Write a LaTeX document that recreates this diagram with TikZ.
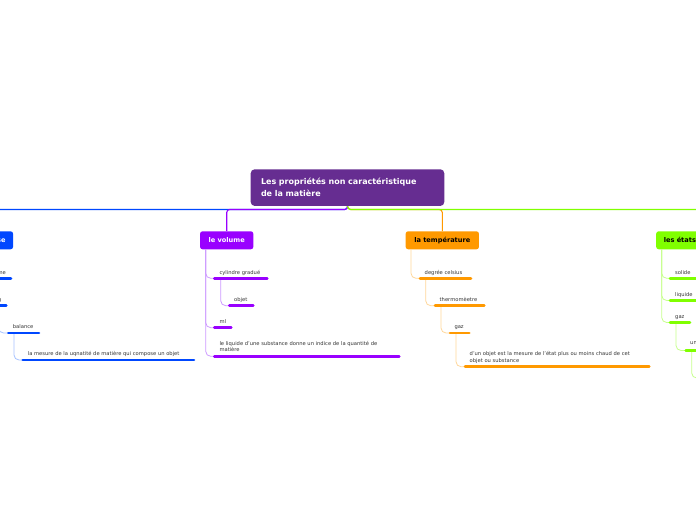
\documentclass[tikz,border=0pt]{standalone}
\usepackage{fontspec}
\setmainfont{DejaVu Sans}
\definecolor{titlec}{HTML}{662D91}
\definecolor{volc}{HTML}{9900FF}
\definecolor{voll}{HTML}{CC99FF}
\definecolor{tempc}{HTML}{FF9900}
\definecolor{templ}{HTML}{FFD699}
\definecolor{etatc}{HTML}{80FF00}
\definecolor{etatl}{HTML}{C6FF8C}
\definecolor{massc}{HTML}{0047FF}
\definecolor{massl}{HTML}{A6C2FF}
\definecolor{leaftext}{HTML}{333333}
\tikzset{
  mainline/.style={line width=1.1pt, rounded corners=3pt},
  conn/.style={line width=0.8pt, rounded corners=5pt},
  uline/.style={line width=2.6pt, line cap=round},
  leaf/.style={font=\fontsize{5.2}{6.8}\selectfont, text=leaftext, inner sep=0pt, align=left},
  topic/.style={rounded corners=2.5pt, minimum height=18pt, inner ysep=0pt, inner xsep=7.6pt,
    font=\fontsize{6.6}{8}\selectfont\bfseries},
  titlebox/.style={rounded corners=4pt, fill=titlec, text=white, minimum width=193.6pt,
    minimum height=36.7pt, inner xsep=10.3pt, inner ysep=0pt, text width=173pt, align=left,
    font=\fontsize{8}{11.7}\selectfont\bfseries}
}
\begin{document}
\begin{tikzpicture}[x=1pt,y=-1pt]
\useasboundingbox (0,0) rectangle (696,520);
\clip (0,0) rectangle (696,520);

% central topic
\node[titlebox] (title) at (347.5,187.6) {Les propriétés non caractéristique\\de la matière};

% main topics
\node[topic, fill=volc, text=white, minimum width=53.3pt] (vol) at (226.7,240.3) {le volume};
\node[topic, fill=tempc, text=black, minimum width=73.3pt] (temp) at (442.3,240.3) {la température};
\node[topic, fill=etatc, text=black, anchor=west] (etat) at (656,240.3) {les états};
\node[topic, fill=massc, text=white, anchor=east] (mass) at (13.3,240.3) {la masse};

% main connectors
\coordinate (hub) at (347.7,209.5);
\coordinate (farleft) at (-20,209.5);
\coordinate (farright) at (720,209.5);
\draw[mainline, massc] (title.south) -- (hub) -- (farleft);
\draw[mainline, tempc] (title.south) -- (hub) -| (temp.north);
\draw[mainline, volc] (title.south) -- (hub) -| (vol.north);
\draw[mainline, etatc] (title.south) -- (hub) -- (farright);

% ---------- le volume ----------
\coordinate (v0) at (205.7,249.3);
\coordinate (cyl-a) at (214.3,278.3);  \coordinate (cyl-b) at (267.3,278.3);
\coordinate (obj-a) at (229.3,305.7);  \coordinate (obj-b) at (253.3,305.7);
\coordinate (ml-a) at (214.3,327.7);   \coordinate (ml-b) at (231.3,327.7);
\coordinate (liq-a) at (214.3,356.3);  \coordinate (liq-b) at (399.3,356.3);
\coordinate (cyl-v) at (220.7,278.3);
\draw[conn, voll] (v0) |- (cyl-a);
\draw[conn, voll] (v0) |- (ml-a);
\draw[conn, voll] (v0) |- (liq-a);
\draw[conn, voll] (cyl-v) |- (obj-a);
\draw[uline, volc] (cyl-a) -- (cyl-b);
\draw[uline, volc] (obj-a) -- (obj-b);
\draw[uline, volc] (ml-a) -- (ml-b);
\draw[uline, volc] (liq-a) -- (liq-b);
\node[leaf, anchor=base west] (cyl) at (219.3,274.3) {cylindre gradué};
\node[leaf, anchor=base west] (obj) at (234,301) {objet};
\node[leaf, anchor=base west] (ml) at (219.3,323.3) {ml};
\node[leaf, anchor=base west] (liq) at (219.3,351.8) {le liquide d'une substance donne un indice de la quantité de\\matière};

% ---------- la température ----------
\coordinate (t0) at (411,249.3);
\coordinate (deg-a) at (420,278.3);  \coordinate (deg-b) at (471,278.3);
\coordinate (the-a) at (435,305.7);  \coordinate (the-b) at (484.3,305.7);
\coordinate (gzt-a) at (450,333);    \coordinate (gzt-b) at (469.3,333);
\coordinate (dun-a) at (465,366.7);  \coordinate (dun-b) at (649.3,366.7);
\coordinate (deg-v) at (425.7,278.3);
\coordinate (the-v) at (441,305.7);
\coordinate (gzt-v) at (456,333);
\draw[conn, templ] (t0) |- (deg-a);
\draw[conn, templ] (deg-v) |- (the-a);
\draw[conn, templ] (the-v) |- (gzt-a);
\draw[conn, templ] (gzt-v) |- (dun-a);
\draw[uline, tempc] (deg-a) -- (deg-b);
\draw[uline, tempc] (the-a) -- (the-b);
\draw[uline, tempc] (gzt-a) -- (gzt-b);
\draw[uline, tempc] (dun-a) -- (dun-b);
\node[leaf, anchor=base west] (deg) at (424.5,274.3) {degrée celsius};
\node[leaf, anchor=base west] (the) at (439.5,301) {thermomèetre};
\node[leaf, anchor=base west] (gzt) at (454.3,328) {gaz};
\node[leaf, anchor=base west] (dun) at (469.5,362) {d'un objet est la mesure de l'état plus ou moins chaud de cet\\objet ou substance};

% ---------- les états ----------
\coordinate (e0) at (661.7,249.3);
\coordinate (sol-a) at (670,278.3);  \coordinate (sol-b) at (705,278.3);
\coordinate (liqe-a) at (670,300.5); \coordinate (liqe-b) at (705,300.5);
\coordinate (gze-a) at (670,322.5);  \coordinate (gze-b) at (690,322.5);
\coordinate (un-a) at (685.7,350.5); \coordinate (un-b) at (710,350.5);
\coordinate (gze-v) at (676,322.5);
\coordinate (un-v) at (691.7,350.5);
\coordinate (next-a) at (705,378);
\draw[conn, etatl] (e0) |- (sol-a);
\draw[conn, etatl] (e0) |- (liqe-a);
\draw[conn, etatl] (e0) |- (gze-a);
\draw[conn, etatl] (gze-v) |- (un-a);
\draw[conn, etatl] (un-v) |- (next-a);
\draw[uline, etatc] (sol-a) -- (sol-b);
\draw[uline, etatc] (liqe-a) -- (liqe-b);
\draw[uline, etatc] (gze-a) -- (gze-b);
\draw[uline, etatc] (un-a) -- (un-b);
\node[leaf, anchor=base west] (sol) at (675,274) {solide};
\node[leaf, anchor=base west] (liqe) at (675,296) {liquide};
\node[leaf, anchor=base west] (gze) at (675,318) {gaz};
\node[leaf, anchor=base west] (un) at (690,344.5) {un};

% ---------- la masse ----------
\coordinate (gr-a) at (-40,278.3);   \coordinate (gr-b) at (11,278.3);
\coordinate (kg-a) at (-20,305.7);   \coordinate (kg-b) at (6.3,305.7);
\coordinate (bal-a) at (8.3,333);    \coordinate (bal-b) at (39,333);
\coordinate (mes-a) at (22.7,360);   \coordinate (mes-b) at (194,360);
\coordinate (kg-v) at (-1.5,305.7);
\coordinate (bal-v) at (14,333);
\draw[conn, massl] (kg-v) |- (bal-a);
\draw[conn, massl] (bal-v) |- (mes-a);
\draw[uline, massc] (gr-a) -- (gr-b);
\draw[uline, massc] (kg-a) -- (kg-b);
\draw[uline, massc] (bal-a) -- (bal-b);
\draw[uline, massc] (mes-a) -- (mes-b);
\node[leaf, anchor=base east] (gr) at (6,274.3) {gramme};
\node[leaf, anchor=base east] (kg) at (1.5,301) {kg};
\node[leaf, anchor=base west] (bal) at (12.7,328) {balance};
\node[leaf, anchor=base west] (mes) at (27.7,355) {la mesure de la uqnatité de matière qui compose un objet};
\end{tikzpicture}
\end{document}
